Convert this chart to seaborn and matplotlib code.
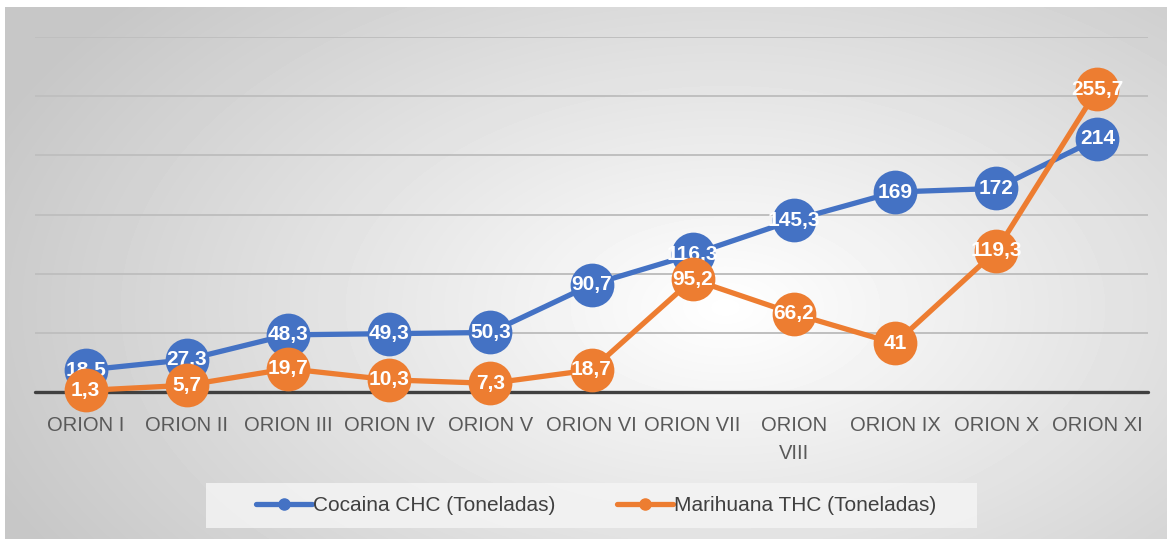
import numpy as np
import pandas as pd
import matplotlib
matplotlib.use('Agg')
import matplotlib.pyplot as plt
from matplotlib.lines import Line2D
from matplotlib.patches import Rectangle
import seaborn as sns

# Datos de las operaciones Orion (toneladas incautadas)
operaciones = ['ORION I', 'ORION II', 'ORION III', 'ORION IV', 'ORION V', 'ORION VI',
               'ORION VII', 'ORION\nVIII', 'ORION IX', 'ORION X', 'ORION XI']
cocaina = [18.5, 27.3, 48.3, 49.3, 50.3, 90.7, 116.3, 145.3, 169, 172, 214]
marihuana = [1.3, 5.7, 19.7, 10.3, 7.3, 18.7, 95.2, 66.2, 41, 119.3, 255.7]
series = ['Cocaina CHC (Toneladas)', 'Marihuana THC (Toneladas)']
colores = ['#4472C4', '#ED7D31']

sns.set_theme(style='white')
plt.rcParams['font.family'] = ['Liberation Sans', 'DejaVu Sans']

W, H = 1167, 539
fig = plt.figure(figsize=(W / 100, H / 100), dpi=100)
fig.patch.set_facecolor('white')

# fondo con degradado radial (estilo Excel)
bg = fig.add_axes([5 / W, 0, 1 - 5 / W, 1 - 7 / H], zorder=0)
yy, xx = np.mgrid[0:532, 0:1162]
d = np.sqrt(((xx - 720) / 720.0) ** 2 + ((yy - 300) / 420.0) ** 2)
gris = np.clip(1 - 0.2 * d, 0.78, 1)
bg.imshow(gris, cmap='gray', vmin=0, vmax=1, aspect='auto', interpolation='bilinear')
bg.axis('off')

# tabla larga para seaborn
df = pd.DataFrame({
    'pos': list(range(len(operaciones))) * 2,
    'toneladas': cocaina + marihuana,
    'serie': [series[0]] * len(cocaina) + [series[1]] * len(marihuana),
})

ax = fig.add_axes([35 / W, 147 / H, (1148 - 35) / W, (502 - 147) / H], zorder=1)
ax.patch.set_alpha(0)
sns.lineplot(data=df, x='pos', y='toneladas', hue='serie', hue_order=series,
             palette=colores, marker='o', markersize=31.5, markeredgewidth=0,
             linewidth=3.8, legend=False, ax=ax)
for i, ln in enumerate(ax.lines):
    ln.set_clip_on(False)
    ln.set_zorder(3 + 2 * i)

# etiquetas de datos (cada serie por encima de la anterior)
def fmt(v):
    return ('%g' % v).replace('.', ',')

for k, vals in enumerate((cocaina, marihuana)):
    for i, v in enumerate(vals):
        ax.text(i, v, fmt(v), ha='center', va='center', color='white',
                fontsize=15, fontweight='bold', zorder=4 + 2 * k)

ax.set_xlim(-0.5, len(operaciones) - 0.5)
ax.set_ylim(0, 300)
ax.set_yticks(range(0, 301, 50))
ax.set_yticklabels([])
ax.set_xticks(range(len(operaciones)))
ax.set_xticklabels(operaciones, color='#595959', fontsize=14.5, linespacing=1.65)
ax.tick_params(axis='x', length=0, pad=17)
ax.tick_params(axis='y', length=0)
ax.set_xlabel('')
ax.set_ylabel('')
ax.grid(axis='y', color='#bfbfbf', linewidth=1.4)
ax.axhline(0, color='#404040', linewidth=2.4, zorder=2, clip_on=False)
sns.despine(ax=ax, left=True, bottom=True)

# leyenda con recuadro propio
fig.patches.append(Rectangle((206 / W, 11 / H), 771 / W, 45 / H, transform=fig.transFigure,
                             facecolor='#f4f4f4', edgecolor='none', alpha=0.85, zorder=1))
handles = [Line2D([0], [0], color=c, lw=3.8, marker='o', markersize=8) for c in colores]
leg = fig.legend(handles, series, loc='center', bbox_to_anchor=(596 / W, 33.5 / H),
                 ncol=2, frameon=False, fontsize=15, handlelength=2.7,
                 handletextpad=0.05, columnspacing=2.95)
for t in leg.get_texts():
    t.set_color('#404040')

fig.savefig('out.png', dpi=100)
